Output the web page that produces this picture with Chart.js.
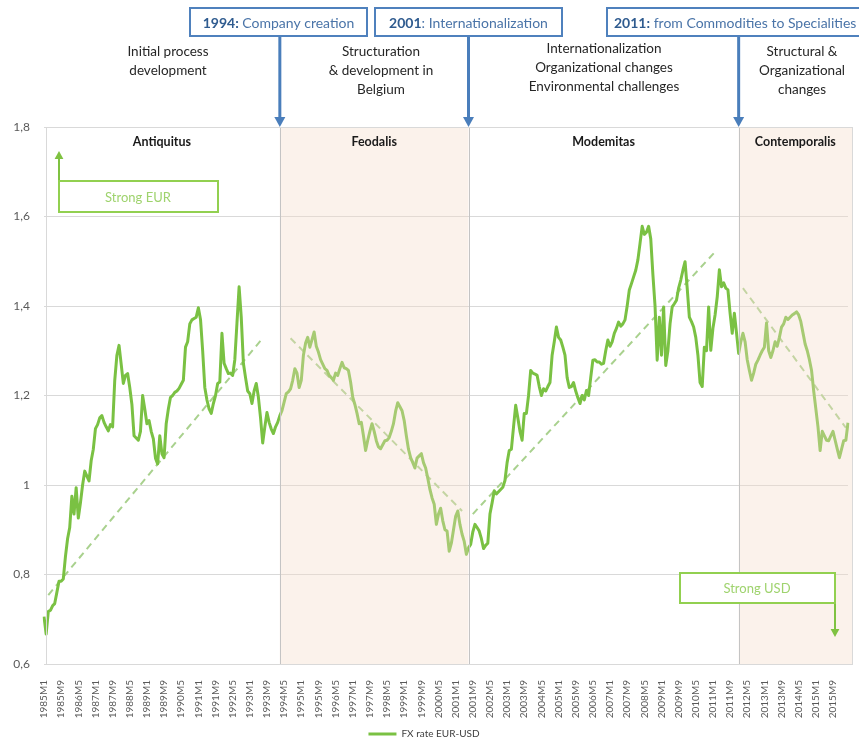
<!DOCTYPE html>
<html>
<head>
<meta charset="utf-8">
<script src="https://cdn.jsdelivr.net/npm/chart.js@4.4.1/dist/chart.umd.min.js"></script>
<style>
  html, body { margin: 0; padding: 0; background: #fff; }
</style>
</head>
<body>
<canvas id="grafico" width="859" height="742"></canvas>
<script>
// Série mensal EUR-USD, a partir de 1985M1
const anoInicio = 1985;
const fxEurUsd = [
  0.706, 0.667, 0.717, 0.72, 0.73, 0.735, 0.76, 0.785, 0.785, 0.79,
  0.84, 0.88, 0.905, 0.975, 0.935, 0.994, 0.926, 0.96, 1.0, 1.031,
  1.02, 1.009, 1.054, 1.08, 1.126, 1.135, 1.15, 1.155, 1.14, 1.13,
  1.121, 1.135, 1.13, 1.234, 1.29, 1.312, 1.27, 1.227, 1.245, 1.249,
  1.218, 1.18, 1.11, 1.105, 1.10, 1.12, 1.20, 1.17, 1.137, 1.144,
  1.12, 1.103, 1.06, 1.047, 1.11, 1.07, 1.061, 1.137, 1.17, 1.196,
  1.20, 1.207, 1.21, 1.216, 1.225, 1.234, 1.308, 1.32, 1.36, 1.369,
  1.372, 1.375, 1.396, 1.37, 1.30, 1.218, 1.19, 1.17, 1.16, 1.182,
  1.20, 1.227, 1.23, 1.339, 1.272, 1.26, 1.249, 1.25, 1.245, 1.28,
  1.362, 1.443, 1.375, 1.272, 1.24, 1.21, 1.204, 1.182, 1.21, 1.227,
  1.196, 1.15, 1.094, 1.13, 1.162, 1.14, 1.125, 1.115, 1.13, 1.14,
  1.155, 1.166, 1.185, 1.204, 1.208, 1.215, 1.234, 1.26, 1.25, 1.218,
  1.234, 1.29, 1.317, 1.33, 1.308, 1.325, 1.342, 1.31, 1.297, 1.28,
  1.27, 1.26, 1.256, 1.245, 1.24, 1.234, 1.25, 1.245, 1.26, 1.274,
  1.262, 1.26, 1.256, 1.23, 1.196, 1.18, 1.16, 1.137, 1.14, 1.11,
  1.077, 1.10, 1.12, 1.137, 1.12, 1.099, 1.085, 1.081, 1.09, 1.099,
  1.10, 1.106, 1.12, 1.137, 1.165, 1.184, 1.175, 1.166, 1.144, 1.11,
  1.08, 1.061, 1.05, 1.038, 1.06, 1.065, 1.07, 1.05, 1.038, 1.015,
  0.99, 0.971, 0.957, 0.912, 0.935, 0.948, 0.92, 0.90, 0.897, 0.852,
  0.87, 0.90, 0.93, 0.942, 0.912, 0.89, 0.874, 0.845, 0.86, 0.867,
  0.895, 0.912, 0.905, 0.897, 0.88, 0.858, 0.865, 0.87, 0.935, 0.96,
  0.987, 0.98, 0.985, 0.99, 0.995, 1.01, 1.05, 1.077, 1.08, 1.13,
  1.178, 1.15, 1.12, 1.10, 1.16, 1.16, 1.20, 1.256, 1.25, 1.248,
  1.245, 1.22, 1.20, 1.215, 1.21, 1.22, 1.229, 1.29, 1.32, 1.353,
  1.33, 1.324, 1.308, 1.29, 1.24, 1.218, 1.22, 1.229, 1.21, 1.195,
  1.182, 1.20, 1.19, 1.211, 1.20, 1.24, 1.279, 1.28, 1.275, 1.275,
  1.27, 1.272, 1.30, 1.324, 1.31, 1.32, 1.339, 1.35, 1.364, 1.355,
  1.36, 1.369, 1.40, 1.436, 1.45, 1.465, 1.48, 1.503, 1.54, 1.578,
  1.56, 1.565, 1.578, 1.55, 1.47, 1.40, 1.279, 1.375, 1.29, 1.398,
  1.267, 1.30, 1.36, 1.398, 1.405, 1.413, 1.44, 1.458, 1.48, 1.499,
  1.44, 1.375, 1.365, 1.353, 1.33, 1.29, 1.229, 1.22, 1.308, 1.30,
  1.398, 1.301, 1.35, 1.38, 1.42, 1.481, 1.443, 1.452, 1.44, 1.436,
  1.384, 1.339, 1.384, 1.34, 1.294, 1.32, 1.339, 1.32, 1.28, 1.256,
  1.234, 1.25, 1.27, 1.279, 1.29, 1.30, 1.308, 1.362, 1.30, 1.285,
  1.30, 1.32, 1.31, 1.33, 1.353, 1.36, 1.375, 1.37, 1.375, 1.38,
  1.383, 1.387, 1.38, 1.365, 1.34, 1.315, 1.30, 1.28, 1.256, 1.21,
  1.17, 1.13, 1.077, 1.12, 1.11, 1.10, 1.099, 1.11, 1.12, 1.10,
  1.08, 1.061, 1.08, 1.099, 1.10, 1.139
];

const yTicks = ['0,6', '0,8', '1', '1,2', '1,4', '1,6', '1,8'];

// Períodos e limites (categorias)
const periodos = ['Antiquitus', 'Feodalis', 'Modemitas', 'Contemporalis'];
const limitesPeriodos = ['1994M3', '2001M7', '2012M1'];

// Linhas de tendência (início / fim de cada período)
const tendInicio = ['1985M3', '1994M8', '2001M9', '2012M3'];
const tendFim = ['1993M7', '2001M4', '2011M2', '2016M3'];
const tendValInicio = [0.754, 1.328, 0.935, 1.44];
const tendValFim = [1.328, 0.942, 1.521, 1.128];

const marcos = [
  { ano: '1994:', texto: ' Company creation', x1: 190, x2: 367, centro: true },
  { ano: '2001', texto: ': Internationalization', x1: 375, x2: 562, centro: true },
  { ano: '2011:', texto: ' from Commodities to Specialities', x1: 607, x2: 875, centro: false }
];

const descricoes = [
  { x: 168, y: 52, linhas: ['Initial process', 'development'] },
  { x: 381, y: 52, linhas: ['Structuration', '& development in', 'Belgium'] },
  { x: 604, y: 49, linhas: ['Internationalization', 'Organizational changes', 'Environmental challenges'] },
  { x: 802, y: 52, linhas: ['Structural &', 'Organizational', 'changes'] }
];

const rotulos = fxEurUsd.map((v, i) => (anoInicio + Math.floor(i / 12)) + 'M' + (i % 12 + 1));

function serieTendencia(k) {
  const a = rotulos.indexOf(tendInicio[k]);
  const b = rotulos.indexOf(tendFim[k]);
  return rotulos.map((r, i) => i === a ? tendValInicio[k] : (i === b ? tendValFim[k] : null));
}

function seta(ctx, x, y1, y2, cor, larg, cab) {
  const dir = Math.sign(y2 - y1);
  ctx.strokeStyle = cor;
  ctx.fillStyle = cor;
  ctx.lineWidth = larg;
  ctx.beginPath();
  ctx.moveTo(x, y1);
  ctx.lineTo(x, y2 - dir * cab);
  ctx.stroke();
  ctx.beginPath();
  ctx.moveTo(x - cab * 0.55, y2 - dir * cab);
  ctx.lineTo(x + cab * 0.55, y2 - dir * cab);
  ctx.lineTo(x, y2);
  ctx.closePath();
  ctx.fill();
}

const anotacoes = {
  id: 'anotacoes',
  afterDatasetsDraw(chart) {
    const { ctx, chartArea: a, scales: { x } } = chart;
    const xs = limitesPeriodos.map(l => x.getPixelForValue(rotulos.indexOf(l)));
    const dir = a.right + 4;
    ctx.save();

    // zonas sombreadas por cima da linha
    ctx.fillStyle = 'rgba(245,220,200,0.36)';
    ctx.fillRect(xs[0], a.top, xs[1] - xs[0], a.bottom - a.top);
    ctx.fillRect(xs[2], a.top, dir - xs[2], a.bottom - a.top);

    // limites e moldura
    ctx.strokeStyle = '#c4c4c4';
    ctx.lineWidth = 1;
    xs.forEach(px => {
      ctx.beginPath();
      ctx.moveTo(Math.round(px) + 0.5, a.top);
      ctx.lineTo(Math.round(px) + 0.5, a.bottom);
      ctx.stroke();
    });
    ctx.strokeStyle = '#d9d9d9';
    ctx.strokeRect(a.left + 2.5, a.top + 0.5, dir - a.left - 2, a.bottom - a.top);

    // títulos dos períodos
    const bordas = [a.left, xs[0], xs[1], xs[2], dir];
    ctx.fillStyle = '#1a1a1a';
    ctx.font = 'bold 12.5px Lato';
    ctx.textAlign = 'center';
    ctx.textBaseline = 'middle';
    periodos.forEach((p, i) => ctx.fillText(p, (bordas[i] + bordas[i + 1]) / 2, 142));

    // descrições no topo
    ctx.fillStyle = '#262626';
    ctx.font = '13.5px Lato';
    descricoes.forEach(d => d.linhas.forEach((l, j) => ctx.fillText(l, d.x, d.y + j * 19)));

    // caixas azuis com setas
    marcos.forEach((m, i) => {
      seta(ctx, xs[i], 36, a.top, '#4a7ebb', 3, 10);
      ctx.fillStyle = '#fff';
      ctx.fillRect(m.x1, 8, m.x2 - m.x1, 28);
      ctx.strokeStyle = '#4f81bd';
      ctx.lineWidth = 2;
      ctx.strokeRect(m.x1, 8, m.x2 - m.x1, 28);
      ctx.font = 'bold 14px Lato';
      const w1 = ctx.measureText(m.ano).width;
      ctx.font = '14px Lato';
      const w2 = ctx.measureText(m.texto).width;
      const x0 = m.centro ? (m.x1 + m.x2 - w1 - w2) / 2 : m.x1 + 7;
      ctx.textAlign = 'left';
      ctx.font = 'bold 14px Lato';
      ctx.fillStyle = '#2f5b8f';
      ctx.fillText(m.ano, x0, 23);
      ctx.font = '14px Lato';
      ctx.fillStyle = '#4a74a8';
      ctx.fillText(m.texto, x0 + w1, 23);
    });

    // Strong EUR / Strong USD
    ctx.textAlign = 'center';
    ctx.font = '13px Lato';
    seta(ctx, 59, 181, 151, '#7fc241', 2, 8);
    ctx.fillStyle = '#fff';
    ctx.fillRect(59, 181, 159, 31);
    ctx.strokeStyle = '#92d050';
    ctx.lineWidth = 2;
    ctx.strokeRect(59, 181, 159, 31);
    ctx.fillStyle = '#9fd36e';
    ctx.fillText('Strong EUR', 138, 198);

    seta(ctx, 835, 603, 637, '#7fc241', 2, 8);
    ctx.fillStyle = '#fff';
    ctx.fillRect(680, 573, 155, 30);
    ctx.strokeStyle = '#92d050';
    ctx.strokeRect(680, 573, 155, 30);
    ctx.fillStyle = '#9fd36e';
    ctx.fillText('Strong USD', 757, 589);

    ctx.restore();
  }
};

Chart.defaults.font.family = 'Lato';

const tendencias = periodos.map((p, k) => ({
  label: 'Tendência ' + p,
  data: serieTendencia(k),
  borderColor: '#a9d18e',
  borderWidth: 2,
  borderDash: [7, 5],
  pointRadius: 0,
  spanGaps: true,
  fill: false
}));

new Chart(document.getElementById('grafico'), {
  type: 'line',
  data: {
    labels: rotulos,
    datasets: [{
      label: 'FX rate EUR-USD',
      data: fxEurUsd,
      borderColor: '#7ac143',
      backgroundColor: '#7ac143',
      borderWidth: 3,
      borderJoinStyle: 'round',
      pointRadius: 0,
      fill: false,
      tension: 0
    }].concat(tendencias)
  },
  options: {
    responsive: false,
    animation: false,
    layout: { padding: { top: 127, right: 11, left: 0, bottom: -7 } },
    plugins: {
      legend: {
        position: 'bottom',
        labels: {
          filter: item => item.datasetIndex === 0,
          usePointStyle: true,
          pointStyle: 'line',
          pointStyleWidth: 28,
          color: '#404040',
          font: { size: 10 },
          padding: 2
        }
      },
      tooltip: { enabled: false }
    },
    scales: {
      x: {
        grid: { display: false },
        border: { color: '#d9d9d9' },
        ticks: {
          autoSkip: false,
          maxRotation: 90,
          minRotation: 90,
          color: '#595959',
          font: { size: 10 },
          padding: 8,
          callback: (v, i) => i % 8 === 0 ? rotulos[i] : null
        },
        afterFit: s => { s.height = 63; }
      },
      y: {
        min: 0.6,
        max: 1.8,
        ticks: {
          stepSize: 0.2,
          color: '#595959',
          font: { size: 12 },
          padding: 14,
          callback: v => yTicks[Math.round((v - 0.6) / 0.2)]
        },
        grid: { color: '#d9d9d9', drawTicks: false },
        border: { display: false },
        afterFit: s => { s.width = 44; }
      }
    }
  },
  plugins: [anotacoes]
});
</script>
</body>
</html>
